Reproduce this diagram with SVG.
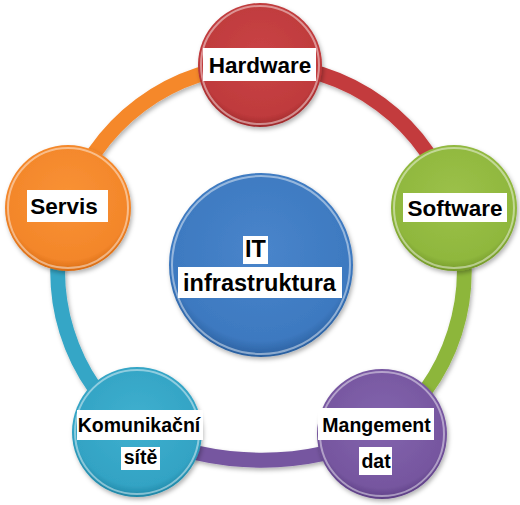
<svg xmlns="http://www.w3.org/2000/svg" width="520" height="505" viewBox="0 0 520 505">
<defs>
<filter id="sh" x="-20%" y="-20%" width="140%" height="140%">
<feDropShadow dx="1.5" dy="2.5" stdDeviation="2" flood-color="#000" flood-opacity="0.3"/>
</filter>
<radialGradient id="gRed" cx="50%" cy="42%" r="58%"><stop offset="0" stop-color="#c94446"/><stop offset="0.85" stop-color="#bf3a3c"/><stop offset="1" stop-color="#9e2a2c"/></radialGradient>
<radialGradient id="gGreen" cx="50%" cy="42%" r="58%"><stop offset="0" stop-color="#9cc14a"/><stop offset="0.85" stop-color="#8fb73d"/><stop offset="1" stop-color="#74992a"/></radialGradient>
<radialGradient id="gPurple" cx="50%" cy="42%" r="58%"><stop offset="0" stop-color="#8364ae"/><stop offset="0.85" stop-color="#76569f"/><stop offset="1" stop-color="#5d3f85"/></radialGradient>
<radialGradient id="gTeal" cx="50%" cy="42%" r="58%"><stop offset="0" stop-color="#3fb0cf"/><stop offset="0.85" stop-color="#33a3c4"/><stop offset="1" stop-color="#1f86a6"/></radialGradient>
<radialGradient id="gOrange" cx="50%" cy="42%" r="58%"><stop offset="0" stop-color="#f99235"/><stop offset="0.85" stop-color="#f3862a"/><stop offset="1" stop-color="#d86c14"/></radialGradient>
<radialGradient id="gBlue" cx="50%" cy="42%" r="58%"><stop offset="0" stop-color="#4985cb"/><stop offset="0.85" stop-color="#3d79c0"/><stop offset="1" stop-color="#2a5f9e"/></radialGradient>
</defs>
<style>
.arc{fill:none;stroke-width:15;stroke-linecap:butt}
.hl{fill:none;stroke-width:2}
.rim{fill:none;stroke:#fff;stroke-opacity:0.45;stroke-width:2}
.box{fill:#fff}
.t{font-family:"Liberation Sans",Arial,Helvetica,sans-serif;font-weight:bold;fill:#000;text-anchor:middle}
.big{font-size:22.5px}
.mid{font-size:23.5px}
.sm{font-size:19.5px}
</style>
<g id="connectors" filter="url(#sh)">
<path class="arc" stroke="#c33b3d" d="M260,65 A202,202 0 0 1 454,208"/>
<path class="arc" stroke="#8db63a" d="M454,208 A202,202 0 0 1 382,434"/>
<path class="arc" stroke="#7656a0" d="M382,434 A290,290 0 0 1 137,432"/>
<path class="arc" stroke="#35a6c6" d="M137,432 A202,202 0 0 1 68,208"/>
<path class="arc" stroke="#f5882b" d="M68,208 A202,202 0 0 1 260,65"/>
</g>
<g id="center">
<circle cx="261" cy="265" r="92" fill="url(#gBlue)" filter="url(#sh)"/>
<circle class="rim" cx="261" cy="265" r="89"/>
<rect class="box" x="243" y="236" width="25" height="28"/>
<rect class="box" x="178" y="267" width="164" height="31"/>
<text class="t mid" x="255.5" y="257">IT</text>
<text class="t mid" x="259.5" y="291">infrastruktura</text>
</g>
<g id="hardware">
<circle cx="260" cy="65" r="62" fill="url(#gRed)" filter="url(#sh)"/>
<circle class="rim" cx="260" cy="65" r="59"/>
<rect class="box" x="203" y="48" width="113" height="33"/>
<text class="t big" x="260" y="73">Hardware</text>
</g>
<g id="software">
<circle cx="454" cy="208" r="63" fill="url(#gGreen)" filter="url(#sh)"/>
<circle class="rim" cx="454" cy="208" r="60"/>
<rect class="box" x="403" y="193" width="104" height="29"/>
<text class="t big" x="455" y="216">Software</text>
</g>
<g id="management">
<circle cx="382" cy="434" r="65" fill="url(#gPurple)" filter="url(#sh)"/>
<circle class="rim" cx="382" cy="434" r="62"/>
<rect class="box" x="318" y="408" width="116" height="32"/>
<rect class="box" x="359" y="447" width="33" height="28"/>
<text class="t sm" x="376.5" y="432">Mangement</text>
<text class="t sm" x="376" y="468">dat</text>
</g>
<g id="komunikace">
<circle cx="137" cy="432" r="65" fill="url(#gTeal)" filter="url(#sh)"/>
<circle class="rim" cx="137" cy="432" r="62"/>
<rect class="box" x="77" y="410" width="126" height="30"/>
<rect class="box" x="121" y="447" width="39" height="23"/>
<text class="t sm" x="139" y="432">Komunikační</text>
<text class="t sm" x="140.5" y="464">sítě</text>
</g>
<g id="servis">
<circle cx="68" cy="208" r="63" fill="url(#gOrange)" filter="url(#sh)"/>
<circle class="rim" cx="68" cy="208" r="60"/>
<rect class="box" x="27" y="190" width="81" height="32"/>
<text class="t big" x="64" y="214">Servis</text>
</g>
</svg>
